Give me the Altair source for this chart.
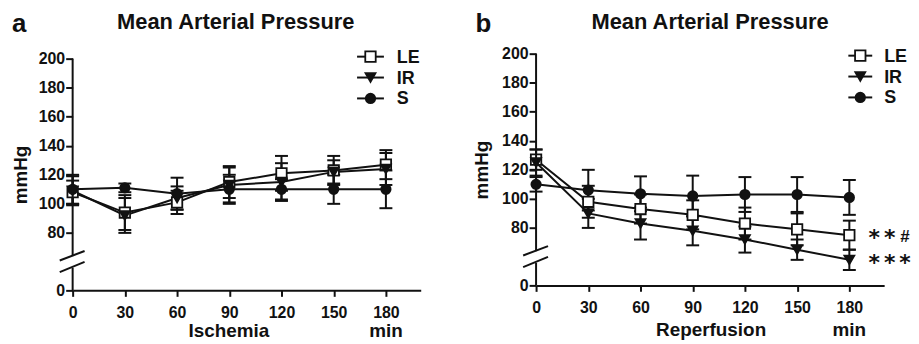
import altair as alt
import pandas as pd

# ---------------- data ----------------
times = [0, 30, 60, 90, 120, 150, 180]
groups = ["LE", "IR", "S"]

a_LE = [108, 94, 101, 115, 121, 123, 127]
a_LE_err = [8, 12, 8, 11, 12, 10, 10]
a_IR = [109, 92, 104, 113, 115, 122, 124]
a_IR_err = [10, 12, 8, 12, 13, 8, 11]
a_S = [110, 111, 107, 110, 110, 110, 110]
a_S_err = [10, 3, 11, 10, 7, 10, 13]

b_LE = [127, 98, 93, 89, 83, 79, 75]
b_LE_err = [7, 11, 10, 10, 11, 11, 10]
b_IR = [125, 90, 83, 78, 72, 65, 58]
b_IR_err = [9, 10, 11, 10, 9, 7, 7]
b_S = [110, 106, 103.5, 102, 103, 103, 101]
b_S_err = [5, 14, 12, 14, 12, 12, 12]

y_ticks = [0, 80, 100, 120, 140, 160, 180, 200]
axis_piece_lo = [0, 56]
axis_piece_hi = [64, 200]
break_left = [61, 53]
break_right = [67.5, 60]
stars_b = ["**#", "***"]

FONT = "Liberation Sans"
INK = "#111111"

shape_scale = alt.Scale(domain=groups, range=["square", "triangle-down", "circle"])
fill_scale = alt.Scale(domain=groups, range=["white", INK, INK])
size_scale = alt.Scale(domain=groups, range=[110, 90, 100])


def panel(means, errs, H, top, letter, title_x, xlabel, xlabel_x, xlabel_y,
          min_y, leg_x0, leg_x1, leg_lab_x, leg_y0, ytitle_x, stars=None):
    W = 350
    rows = []
    for g, ml, el in zip(groups, means, errs):
        for t, m, e in zip(times, ml, el):
            rows.append({"t": t, "g": g, "m": m, "lo": m - e, "hi": m + e})
    df = pd.DataFrame(rows)

    xs = alt.Scale(domain=[0, 200], nice=False, zero=False)
    ys = alt.Scale(domain=[0, 50, 200], range=[H, H - 14, top], nice=False, zero=False)
    xaxis = alt.Axis(values=times, title=None, grid=False, domainWidth=2, domainColor=INK,
                     tickWidth=2, tickColor=INK, tickSize=6, labelFont=FONT, labelFontSize=16,
                     labelFontWeight="bold", labelColor=INK, labelPadding=8, labelFlush=False)
    yaxis = alt.Axis(values=y_ticks, title="mmHg", titleFont=FONT, titleFontSize=19,
                     titleFontWeight="bold", titleColor=INK, titleX=ytitle_x, titleY=(H + top) / 2,
                     titleAngle=-90, titleBaseline="middle", titleAlign="center",
                     grid=False, domain=False, tickWidth=2, tickColor=INK, tickSize=7,
                     labelFont=FONT, labelFontSize=16, labelFontWeight="bold", labelColor=INK,
                     labelPadding=1, labelFlush=False)

    def X(f):
        return alt.X(f, scale=xs, axis=xaxis)

    def Y(f):
        return alt.Y(f, scale=ys, axis=yaxis)

    base = alt.Chart(df)
    bars = base.mark_rule(color=INK, strokeWidth=2).encode(x=X("t:Q"), y=Y("lo:Q"), y2="hi:Q")
    cap_lo = base.mark_rule(color=INK, strokeWidth=2, xOffset=-6.5, x2Offset=6.5).encode(
        x=X("t:Q"), x2="t:Q", y=Y("lo:Q"))
    cap_hi = base.mark_rule(color=INK, strokeWidth=2, xOffset=-6.5, x2Offset=6.5).encode(
        x=X("t:Q"), x2="t:Q", y=Y("hi:Q"))
    line = base.mark_line(color=INK, strokeWidth=2).encode(x=X("t:Q"), y=Y("m:Q"), detail="g:N")
    pts = base.mark_point(filled=True, stroke=INK, strokeWidth=1.8, opacity=1).encode(
        x=X("t:Q"), y=Y("m:Q"),
        shape=alt.Shape("g:N", scale=shape_scale, legend=None),
        fill=alt.Fill("g:N", scale=fill_scale, legend=None),
        size=alt.Size("g:N", scale=size_scale, legend=None))

    axis_df = pd.DataFrame({"y1": [axis_piece_lo[0], axis_piece_hi[0]],
                            "y2": [axis_piece_lo[1], axis_piece_hi[1]]})
    yline = alt.Chart(axis_df).mark_rule(color=INK, strokeWidth=2).encode(
        x=alt.value(0), y=Y("y1:Q"), y2="y2:Q")
    brk_df = pd.DataFrame({"b1": break_left, "b2": break_right})
    brk = alt.Chart(brk_df).mark_rule(color=INK, strokeWidth=2).encode(
        x=alt.value(-13), x2=alt.value(12), y=Y("b1:Q"), y2="b2:Q")

    layers = [bars, cap_lo, cap_hi, line, pts, yline, brk]

    one = pd.DataFrame({"k": [0]})
    # legend
    for i, g in enumerate(groups):
        ry = leg_y0 + i * 21
        gdf = pd.DataFrame({"g": [g]})
        layers.append(alt.Chart(gdf).mark_rule(color=INK, strokeWidth=2).encode(
            x=alt.value(leg_x0), x2=alt.value(leg_x1), y=alt.value(ry)))
        layers.append(alt.Chart(gdf).mark_point(filled=True, stroke=INK, strokeWidth=1.8, opacity=1).encode(
            x=alt.value((leg_x0 + leg_x1) / 2), y=alt.value(ry),
            shape=alt.Shape("g:N", scale=shape_scale, legend=None),
            fill=alt.Fill("g:N", scale=fill_scale, legend=None),
            size=alt.Size("g:N", scale=size_scale, legend=None)))
        layers.append(alt.Chart(gdf).mark_text(font=FONT, fontSize=18, fontWeight="bold", color=INK,
                                               align="left", baseline="middle").encode(
            x=alt.value(leg_lab_x), y=alt.value(ry + 1), text="g:N"))

    layers.append(alt.Chart(one).mark_text(text=letter, font=FONT, fontSize=26, fontWeight="bold",
                                           color=INK, align="left", baseline="alphabetic").encode(
        x=alt.value(-61), y=alt.value(-22)))
    layers.append(alt.Chart(one).mark_text(text="Mean Arterial Pressure", font=FONT, fontSize=22,
                                           fontWeight="bold", color=INK, align="center",
                                           baseline="alphabetic").encode(
        x=alt.value(title_x), y=alt.value(-25)))
    layers.append(alt.Chart(one).mark_text(text=xlabel, font=FONT, fontSize=19, fontWeight="bold",
                                           color=INK, align="center", baseline="alphabetic").encode(
        x=alt.value(xlabel_x), y=alt.value(xlabel_y)))
    layers.append(alt.Chart(pd.DataFrame({"t": [180]})).mark_text(
        text="min", font=FONT, fontSize=19, fontWeight="bold", color=INK, align="center",
        baseline="alphabetic").encode(x=X("t:Q"), y=alt.value(min_y)))
    if stars:
        # significance marks placed next to the last point of LE and IR, one glyph at a time
        for s, mv in zip(stars, [means[0][-1], means[1][-1]]):
            for j, ch in enumerate(s):
                cdf = pd.DataFrame({"t": [180], "m": [mv], "c": [ch]})
                if ch == "*":
                    mk = alt.Chart(cdf).mark_text(font="DejaVu Sans", fontSize=22, fontWeight="bold",
                                                  color=INK, align="center", baseline="alphabetic",
                                                  dx=25 + 15.5 * j, dy=10)
                else:
                    mk = alt.Chart(cdf).mark_text(font=FONT, fontSize=17, fontWeight="bold",
                                                  color=INK, align="center", baseline="alphabetic",
                                                  dx=25 + 15.5 * j, dy=7)
                layers.append(mk.encode(x=X("t:Q"), y=Y("m:Q"), text="c:N"))

    return alt.layer(*layers).properties(width=W, height=H)


pa = panel([a_LE, a_IR, a_S], [a_LE_err, a_IR_err, a_S_err], H=238, top=5, letter="a",
           title_x=164, xlabel="Ischemia", xlabel_x=157, xlabel_y=285, min_y=285,
           leg_x0=286, leg_x1=313, leg_lab_x=326, leg_y0=3, ytitle_x=-52)
pb = panel([b_LE, b_IR, b_S], [b_LE_err, b_IR_err, b_S_err], H=233, top=0, letter="b",
           title_x=175, xlabel="Reperfusion", xlabel_x=176, xlabel_y=284, min_y=284,
           leg_x0=314, leg_x1=338, leg_lab_x=350, leg_y0=2, ytitle_x=-55, stars=stars_b)

chart = alt.hconcat(pa, pb, spacing=52).properties(
    padding={"left": 4, "top": 2, "right": 0, "bottom": 0}
).configure_view(stroke=None)

chart.save("out.html", embed_options={"renderer": "svg", "actions": False})
